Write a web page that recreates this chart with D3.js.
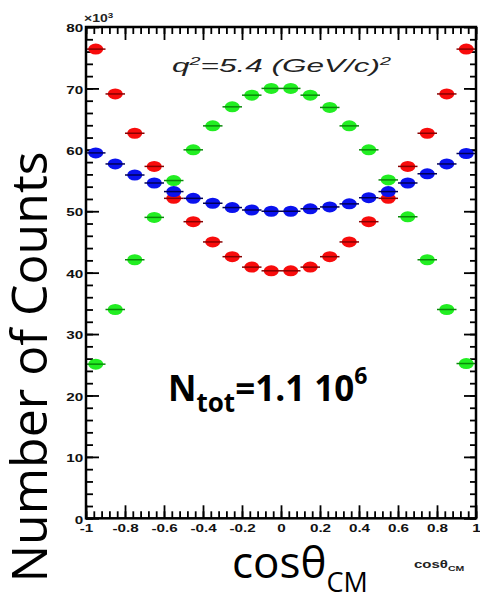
<!DOCTYPE html>
<html>
<head>
<meta charset="utf-8">
<script src="https://cdn.jsdelivr.net/npm/d3@7"></script>
<style>
  body { margin: 0; background: #fff; }
  svg { display: block; }
</style>
</head>
<body>
<script>
// bin centres in cos(theta_CM)
var cosBins = [-0.95, -0.85, -0.75, -0.65, -0.55, -0.45, -0.35, -0.25, -0.15, -0.05,
               0.05, 0.15, 0.25, 0.35, 0.45, 0.55, 0.65, 0.75, 0.85, 0.95];

// counts, x10^3
var redCounts   = [76.4, 69.1, 62.7, 57.3, 52.1, 48.3, 45.0, 42.6, 40.9, 40.3,
                   40.3, 40.9, 42.6, 45.0, 48.3, 52.1, 57.3, 62.7, 69.1, 76.4];
var greenCounts = [25.1, 34.0, 42.1, 49.0, 55.0, 60.0, 63.9, 67.0, 68.9, 70.0,
                   70.0, 68.9, 66.9, 63.9, 60.0, 55.1, 49.1, 42.1, 34.0, 25.2];
var blueCounts  = [59.5, 57.7, 55.9, 54.6, 53.2, 52.1, 51.3, 50.6, 50.2, 50.0,
                   50.0, 50.4, 50.7, 51.2, 52.2, 53.2, 54.6, 56.1, 57.7, 59.4];

var xTickValues = [-1, -0.8, -0.6, -0.4, -0.2, 0, 0.2, 0.4, 0.6, 0.8, 1];
var xTickLabels = ["-1", "-0.8", "-0.6", "-0.4", "-0.2", "0", "0.2", "0.4", "0.6", "0.8", "1"];
var yTickValues = [0, 10, 20, 30, 40, 50, 60, 70, 80];
var yTickLabels = ["0", "10", "20", "30", "40", "50", "60", "70", "80"];
var binHalfWidth = 0.05;

var w = 480, h = 600;
var svg = d3.select('body').append('svg').attr('width', w).attr('height', h);

var x = d3.scaleLinear().domain([-1, 1]).range([86, 476]);
var y = d3.scaleLinear().domain([0, 80]).range([518.3, 27]);

// minor tick positions
var xMinor = d3.range(0, 51).map(function(i){ return -1 + i * 0.04; });
var yMinor = d3.range(0, 41).map(function(i){ return i * 2; });

var stretch = 'scale(1.45,1)';
var tickFont = '"Liberation Sans", Arial, sans-serif';

function styleAxis(g){
  g.select('.domain').remove();
  g.selectAll('line').attr('stroke', '#000').attr('stroke-width', 1.8);
  g.selectAll('text')
    .attr('font-family', tickFont)
    .attr('font-weight', 'bold')
    .attr('font-size', 10.5)
    .attr('fill', '#111');
}
// ticks only, no empty label nodes
function ticksOnly(g){
  styleAxis(g);
  g.selectAll('text').remove();
}

// bottom axis
svg.append('g').attr('transform', 'translate(0,' + y(0) + ')')
  .call(d3.axisBottom(x).tickValues(xMinor).tickSize(-7))
  .call(ticksOnly);
svg.append('g').attr('transform', 'translate(0,' + y(0) + ')')
  .call(d3.axisBottom(x).tickValues(xTickValues).tickSize(-13).tickPadding(6)
    .tickFormat(function(d, i){ return xTickLabels[i]; }))
  .call(styleAxis)
  .selectAll('text').attr('transform', stretch);

// top axis
svg.append('g').attr('transform', 'translate(0,' + y(80) + ')')
  .call(d3.axisTop(x).tickValues(xMinor).tickSize(-7))
  .call(ticksOnly);
svg.append('g').attr('transform', 'translate(0,' + y(80) + ')')
  .call(d3.axisTop(x).tickValues(xTickValues).tickSize(-13))
  .call(ticksOnly);

// left axis
svg.append('g').attr('transform', 'translate(' + x(-1) + ',0)')
  .call(d3.axisLeft(y).tickValues(yMinor).tickSize(-7))
  .call(ticksOnly);
svg.append('g').attr('transform', 'translate(' + x(-1) + ',0)')
  .call(d3.axisLeft(y).tickValues(yTickValues).tickSize(-13).tickPadding(2)
    .tickFormat(function(d, i){ return yTickLabels[i]; }))
  .call(styleAxis)
  .selectAll('text').attr('transform', stretch).attr('dy', '0.45em');

// right axis
svg.append('g').attr('transform', 'translate(' + x(1) + ',0)')
  .call(d3.axisRight(y).tickValues(yMinor).tickSize(-6))
  .call(ticksOnly);
svg.append('g').attr('transform', 'translate(' + x(1) + ',0)')
  .call(d3.axisRight(y).tickValues(yTickValues).tickSize(-12))
  .call(ticksOnly);

// data points with x error bars
var series = [
  {name: 'red',   values: redCounts,   fill: '#f80c0c', bar: '#8a0000'},
  {name: 'green', values: greenCounts, fill: '#22ee22', bar: '#0a8a0a'},
  {name: 'blue',  values: blueCounts,  fill: '#0a12ee', bar: '#00005a'}
];

series.forEach(function(s){
  var pts = cosBins.map(function(c, i){ return {c: c, v: s.values[i]}; });
  var g = svg.append('g').attr('class', 'series-' + s.name);
  g.selectAll('ellipse')
    .data(pts)
    .enter()
    .append('ellipse')
    .attr('cx', function(d){ return x(d.c); })
    .attr('cy', function(d){ return y(d.v); })
    .attr('rx', 7.5)
    .attr('ry', 5.5)
    .attr('fill', s.fill);
  g.selectAll('line')
    .data(pts)
    .enter()
    .append('line')
    .attr('x1', function(d){ return x(d.c - binHalfWidth); })
    .attr('x2', function(d){ return x(d.c + binHalfWidth); })
    .attr('y1', function(d){ return y(d.v); })
    .attr('y2', function(d){ return y(d.v); })
    .attr('stroke', s.bar)
    .attr('stroke-width', 1.5);
});

// frame
svg.append('rect')
  .attr('x', x(-1)).attr('y', y(80))
  .attr('width', x(1) - x(-1)).attr('height', y(0) - y(80))
  .attr('fill', 'none').attr('stroke', '#000').attr('stroke-width', 2.5);

// x10^3 exponent
var expo = svg.append('text')
  .attr('transform', 'translate(84,22) scale(1.4,1)')
  .attr('font-family', tickFont).attr('font-weight', 'bold').attr('font-size', 10)
  .attr('fill', '#222');
expo.append('tspan').text('\u00d710');
expo.append('tspan').attr('font-size', 7).attr('dy', -4).text('3');

// q^2 label
var ql = svg.append('text')
  .attr('transform', 'translate(172,72) scale(1.8,1)')
  .attr('font-family', tickFont).attr('font-style', 'italic').attr('font-size', 17.5)
  .attr('fill', '#222');
ql.append('tspan').text('q');
ql.append('tspan').attr('font-size', 11).attr('dy', -7).text('2');
ql.append('tspan').attr('dy', 7).text('=5.4 (GeV/c)');
ql.append('tspan').attr('font-size', 11).attr('dy', -7).text('2');

// small axis title in the plot
var sx = svg.append('text')
  .attr('transform', 'translate(414,568) scale(1.5,1)')
  .attr('font-family', tickFont).attr('font-weight', 'bold').attr('font-size', 10)
  .attr('fill', '#222');
sx.append('tspan').text('cos\u03b8');
sx.append('tspan').attr('font-size', 7).attr('dy', 3).text('CM');

// big overlay titles
var bigFont = '"Open Sans", "Noto Sans", sans-serif';

svg.append('text')
  .attr('transform', 'translate(47,367) rotate(-90)')
  .attr('text-anchor', 'middle')
  .attr('font-family', bigFont).attr('font-size', 50)
  .attr('fill', '#000')
  .text('Number of Counts');

var bx = svg.append('text')
  .attr('x', 232).attr('y', 578)
  .attr('font-family', bigFont).attr('font-size', 44)
  .attr('fill', '#000');
bx.append('tspan').text('cos\u03b8');
bx.append('tspan').attr('font-size', 27).attr('dy', 14).text('CM');

var nt = svg.append('text')
  .attr('x', 168).attr('y', 401)
  .attr('font-family', bigFont).attr('font-weight', 'bold').attr('font-size', 35)
  .attr('fill', '#000');
nt.append('tspan').text('N');
nt.append('tspan').attr('font-size', 26).attr('dy', 11).text('tot');
nt.append('tspan').attr('dy', -11).text('=1.1 10');
nt.append('tspan').attr('font-size', 23).attr('dy', -17).text('6');
</script>
</body>
</html>
